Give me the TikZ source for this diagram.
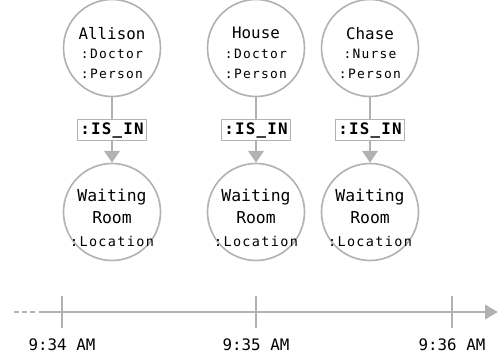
\documentclass[tikz,border=0pt]{standalone}
\usepackage{fontspec}
\setmonofont{DejaVu Sans Mono}
\newfontfamily\labelmono[LetterSpace=10]{DejaVu Sans Mono}
\newfontfamily\relmono[LetterSpace=8]{DejaVu Sans Mono}
\usepackage{tikz}
\usetikzlibrary{positioning, arrows.meta}
\usepackage{xcolor}
\definecolor{edgegray}{RGB}{178, 178, 178}

\begin{document}
\begin{tikzpicture}[
    x=0.03cm, y=-0.03cm,
    entity/.style={circle, draw=edgegray, line width=1.4pt, fill=white, minimum size=2.91cm, inner sep=0pt},
    person/.style={align=center, inner sep=0pt, font=\ttfamily\fontsize{11}{16.8}\selectfont},
    place/.style={align=center, inner sep=0pt, font=\ttfamily\fontsize{11.5}{19}\selectfont},
    rel/.style={draw=edgegray, line width=0.8pt, fill=white, text=black, inner sep=2pt, font=\relmono\bfseries\fontsize{13.5}{15}\selectfont},
    arrow/.style={-{Triangle[length=10pt, width=13pt]}, edgegray, line width=2.2pt},
    tick/.style={edgegray, line width=1.6pt},
    timelabel/.style={font=\ttfamily\fontsize{13.5}{15}\selectfont, inner sep=0pt}
]
    \useasboundingbox (0,0) rectangle (498,360);

    % Persons
    \node[entity] (allison) at (112,48) {};
    \node[entity] (house) at (256,48) {};
    \node[entity] (chase) at (370,48) {};
    \node[person] (allison-txt) at (112,53) {{\fontsize{13.5}{16}\selectfont Allison}\\{\labelmono :Doctor}\\{\labelmono :Person}};
    \node[person] (house-txt) at (256,53) {{\fontsize{13.5}{16}\selectfont House}\\{\labelmono :Doctor}\\{\labelmono :Person}};
    \node[person] (chase-txt) at (370,53) {{\fontsize{13.5}{16}\selectfont Chase}\\{\labelmono :Nurse}\\{\labelmono :Person}};

    % Locations
    \node[entity] (room1) at (112,212) {};
    \node[entity] (room2) at (256,212) {};
    \node[entity] (room3) at (370,212) {};
    \foreach \r in {room1, room2, room3} {
        \node[place] (\r-txt) at ([yshift=-5pt]\r.center) {{\fontsize{14}{16}\selectfont Waiting}\\{\fontsize{14}{16}\selectfont Room}\\{\labelmono :Location}};
    }

    % Relationships
    \draw[arrow] (allison) -- node[rel] {:IS\_IN} (room1);
    \draw[arrow] (house) -- node[rel] {:IS\_IN} (room2);
    \draw[arrow] (chase) -- node[rel] {:IS\_IN} (room3);

    % Timeline
    \coordinate (tstart) at (14,312);
    \coordinate (tdash) at (42,312);
    \coordinate (tend) at (498,312);
    \draw[edgegray, line width=2.5pt, dash pattern=on 4pt off 3pt] (tstart) -- (tdash);
    \draw[edgegray, line width=2.5pt, -{Triangle[length=11pt, width=12pt]}] (tdash) -- (tend);

    \foreach \x/\t/\name in {62/9:34 AM/ta, 256/9:35 AM/tb, 452/9:36 AM/tc} {
        \coordinate (\name top) at (\x,296);
        \coordinate (\name bot) at (\x,328);
        \draw[tick] (\name top) -- (\name bot);
        \node[timelabel, below=9pt of \name bot] (\name) {\t};
    }
\end{tikzpicture}
\end{document}
